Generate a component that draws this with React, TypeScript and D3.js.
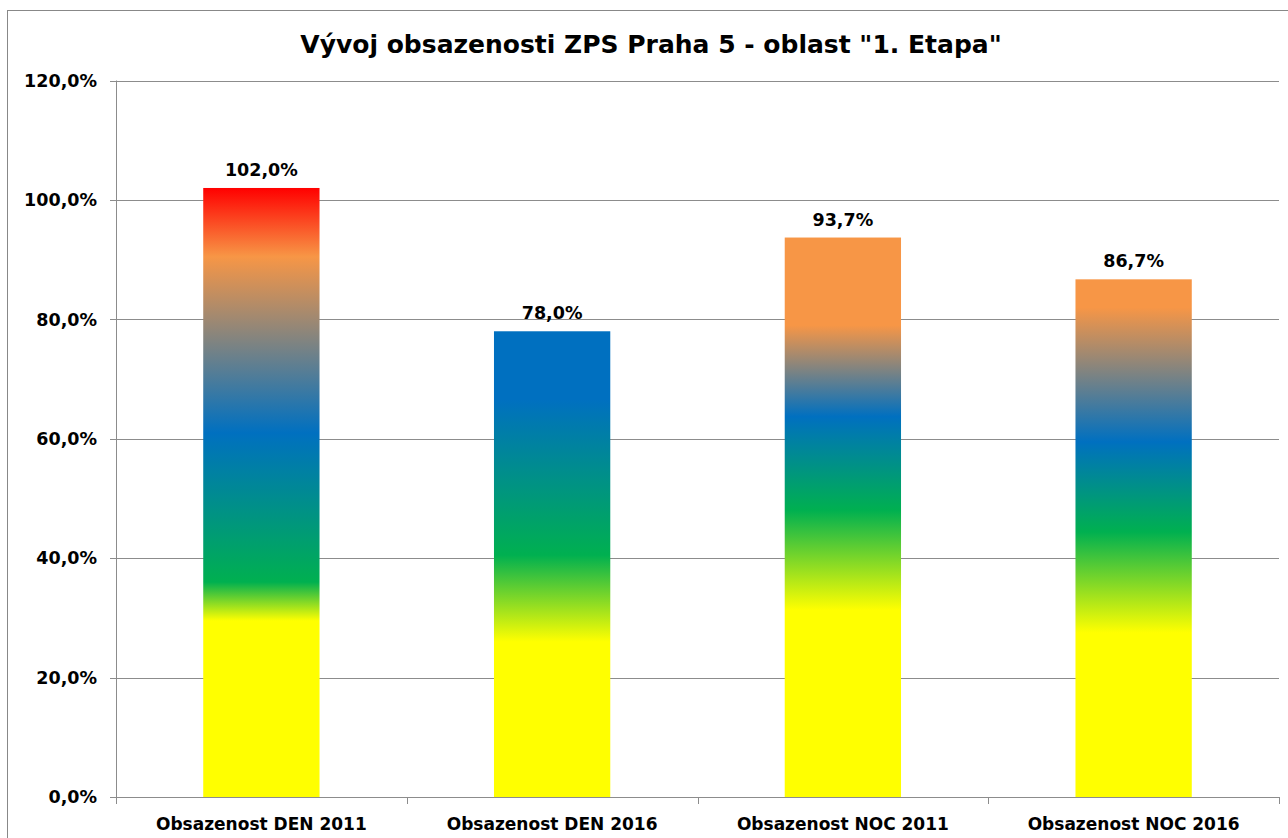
import React from "react";
import * as d3 from "d3";

const title = 'Vývoj obsazenosti ZPS Praha 5 - oblast "1. Etapa"';
const categories = ["Obsazenost DEN 2011", "Obsazenost DEN 2016", "Obsazenost NOC 2011", "Obsazenost NOC 2016"];
const values = [102.0, 78.0, 93.7, 86.7];
const yTicks = [0, 20, 40, 60, 80, 100, 120];

// gradient stops per bar: [value position (%), colour]
const gradDen2011: [number, string][] = [[0, "#FFFF00"], [29.5, "#FFFF00"], [36, "#00B050"], [61, "#0070C0"], [90.5, "#F79646"], [102, "#FF0000"]];
const gradDen2016: [number, string][] = [[0, "#FFFF00"], [26, "#FFFF00"], [40.5, "#00B050"], [66.5, "#0070C0"], [78, "#0070C0"]];
const gradNoc2011: [number, string][] = [[0, "#FFFF00"], [31.3, "#FFFF00"], [48, "#00B050"], [63.7, "#0070C0"], [79, "#F79646"], [93.7, "#F79646"]];
const gradNoc2016: [number, string][] = [[0, "#FFFF00"], [27.5, "#FFFF00"], [44.4, "#00B050"], [59.5, "#0070C0"], [82, "#F79646"], [86.7, "#F79646"]];
const gradients = [gradDen2011, gradDen2016, gradNoc2011, gradNoc2016];

const fmt = (v: number) => v.toFixed(1).replace(".", ",") + "%";

export default function App() {
  const W = 1288, H = 838;
  const left = 116, right = 1279, top = 80.5, bottom = 797;
  const x = d3.scaleBand<string>().domain(categories).range([left, right]).padding(0);
  const y = d3.scaleLinear().domain([0, 120]).range([bottom, top]);
  const barW = x.bandwidth() * 0.4;
  const grid = "#8C8C8C";
  const font = "'DejaVu Sans', Verdana, sans-serif";

  return (
    <svg width={W} height={H} style={{ position: "absolute", left: 0, top: 0 }} fontFamily={font}>
      <defs>
        {gradients.map((g, i) => (
          <linearGradient key={i} id={`g${i}`} gradientUnits="userSpaceOnUse" x1={0} x2={0} y1={y(0)} y2={y(values[i])}>
            {g.map(([v, c], j) => (
              <stop key={j} offset={v / values[i]} stopColor={c} />
            ))}
          </linearGradient>
        ))}
      </defs>
      <rect x={0} y={0} width={W} height={H} fill="#fff" />
      <rect x={7.5} y={10.5} width={1290} height={840} fill="none" stroke="#888" strokeWidth={1} />
      <text x={651} y={53} textAnchor="middle" fontSize={25} fontWeight="bold" fill="#000">{title}</text>
      {yTicks.map((t) => (
        <g key={t}>
          <line x1={left - 6} x2={right} y1={Math.round(y(t)) + 0.5} y2={Math.round(y(t)) + 0.5} stroke={grid} strokeWidth={1} />
          <text x={97} y={y(t)} dy="0.36em" textAnchor="end" fontSize={17.5} fontWeight="bold" fill="#000">{fmt(t)}</text>
        </g>
      ))}
      <line x1={left + 0.5} x2={left + 0.5} y1={y(120)} y2={bottom} stroke={grid} />
      {[...categories.map((c) => x(c) as number), right].map((xx, i) => (
        <line key={i} x1={Math.round(xx) + 0.5} x2={Math.round(xx) + 0.5} y1={bottom} y2={bottom + 7} stroke={grid} />
      ))}
      {categories.map((c, i) => {
        const cx = (x(c) as number) + x.bandwidth() / 2;
        return (
          <g key={c}>
            <rect x={cx - barW / 2} y={y(values[i])} width={barW} height={bottom - y(values[i])} fill={`url(#g${i})`} />
            <text x={cx} y={y(values[i]) - 12} textAnchor="middle" fontSize={17.5} fontWeight="bold" fill="#000">{fmt(values[i])}</text>
            <text x={cx} y={830} textAnchor="middle" fontSize={17} fontWeight="bold" fill="#000">{c}</text>
          </g>
        );
      })}
    </svg>
  );
}
